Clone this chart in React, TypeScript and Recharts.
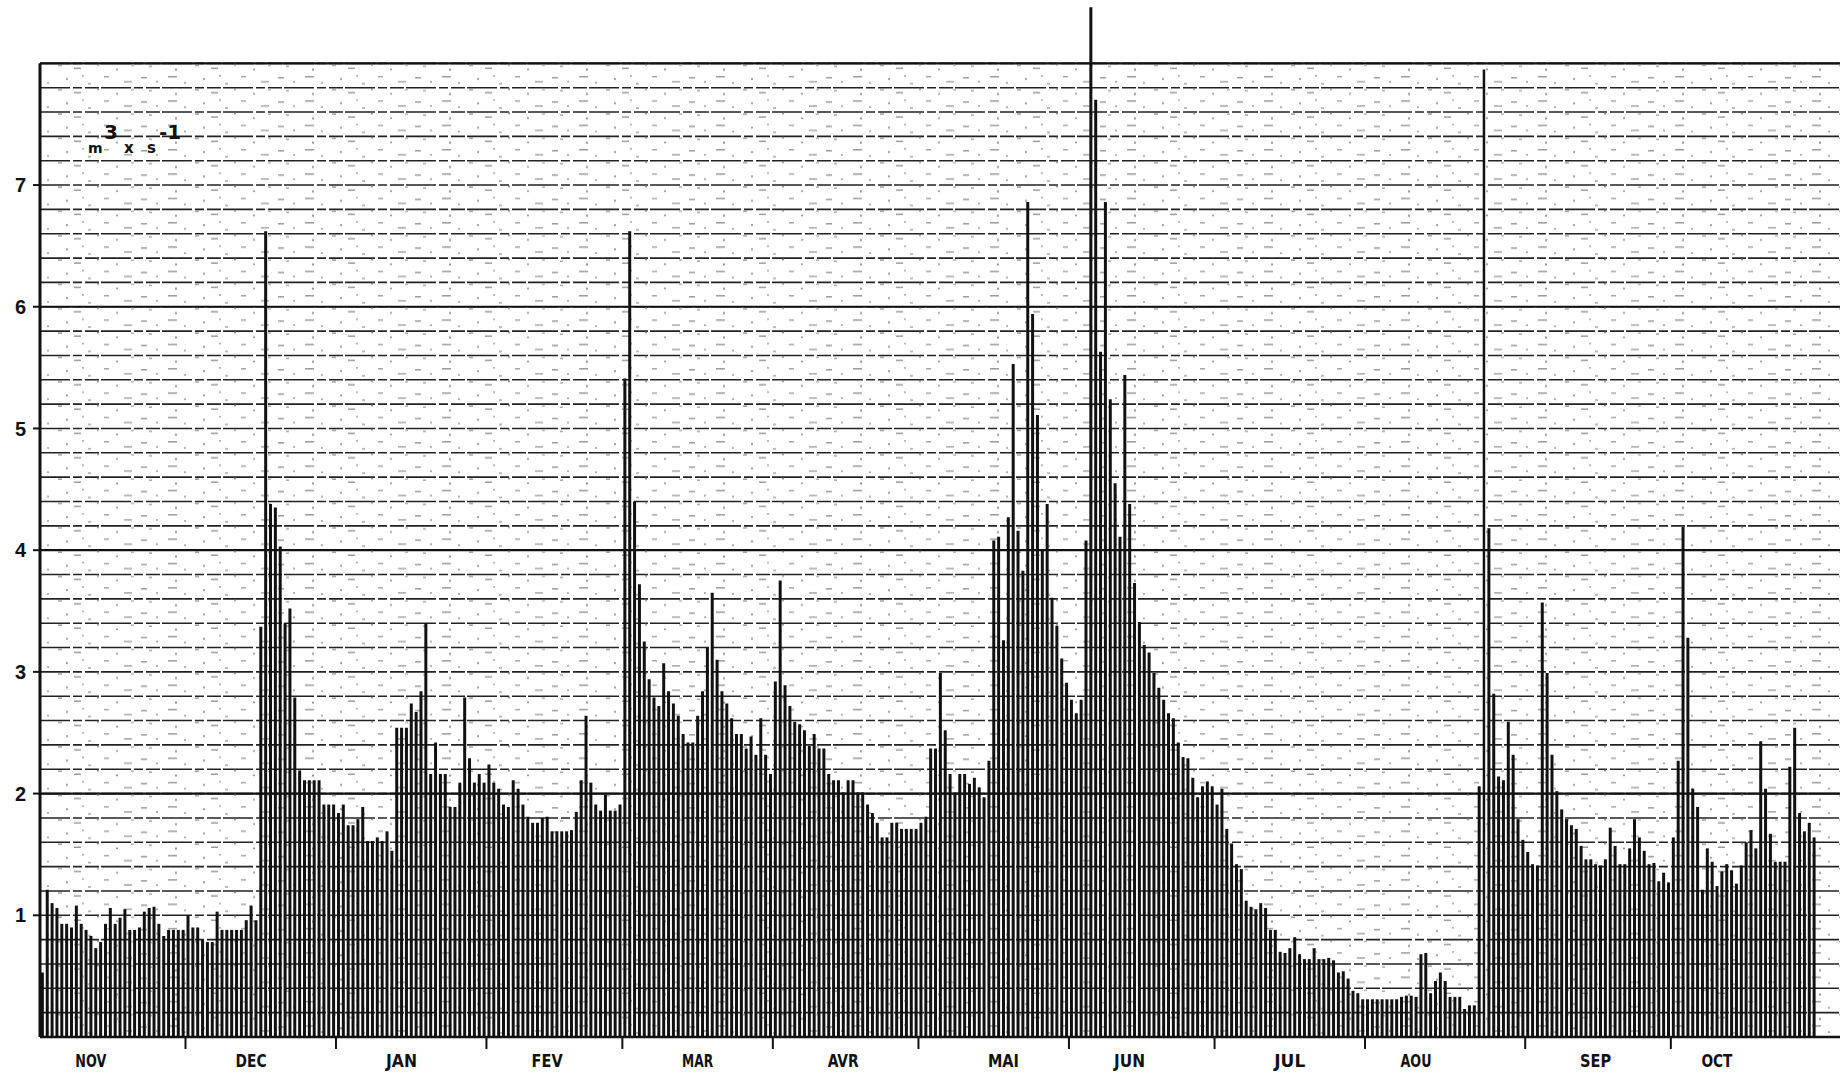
import React from 'react';
import { ComposedChart, Bar, XAxis, YAxis, CartesianGrid, ReferenceLine, ReferenceArea } from 'recharts';

// ---- data (daily discharge, m3/s, hydrological year NOV -> OCT) ----
const MONTHS = ['NOV', 'DEC', 'JAN', 'FEV', 'MAR', 'AVR', 'MAI', 'JUN', 'JUL', 'AOU', 'SEP', 'OCT'];

const NOV = [0.53, 1.21, 1.1, 1.06, 0.93, 0.93, 0.9, 1.08, 0.93, 0.88, 0.83, 0.73, 0.78, 0.93, 1.06, 0.93, 0.98, 1.05, 0.88, 0.88, 0.9, 1.03, 1.06, 1.07, 0.93, 0.83, 0.88, 0.88, 0.88, 0.88];
const DEC = [1.0, 0.9, 0.9, 0.8, 0.78, 0.78, 1.03, 0.88, 0.88, 0.88, 0.88, 0.88, 0.96, 1.08, 0.96, 3.37, 6.62, 4.38, 4.35, 4.03, 3.4, 3.52, 2.79, 2.19, 2.11, 2.11, 2.11, 2.11, 1.91, 1.91, 1.91];
const JAN = [1.84, 1.91, 1.74, 1.74, 1.79, 1.89, 1.61, 1.61, 1.64, 1.61, 1.69, 1.53, 2.54, 2.54, 2.54, 2.74, 2.67, 2.84, 3.4, 2.16, 2.42, 2.16, 2.16, 1.89, 1.89, 2.09, 2.79, 2.29, 2.09, 2.16, 2.09];
const FEV = [2.24, 2.09, 2.04, 1.91, 1.89, 2.11, 2.04, 1.91, 1.81, 1.76, 1.76, 1.8, 1.81, 1.69, 1.69, 1.69, 1.69, 1.7, 1.85, 2.11, 2.64, 2.09, 1.91, 1.86, 1.99, 1.86, 1.86, 1.91];
const MAR = [5.41, 6.62, 4.4, 3.72, 3.25, 2.94, 2.79, 2.72, 3.07, 2.84, 2.74, 2.64, 2.49, 2.42, 2.42, 2.64, 2.84, 3.2, 3.65, 3.1, 2.84, 2.74, 2.62, 2.49, 2.49, 2.37, 2.47, 2.32, 2.62, 2.32, 2.16];
const AVR = [2.92, 3.75, 2.89, 2.72, 2.59, 2.57, 2.52, 2.39, 2.49, 2.37, 2.37, 2.16, 2.11, 2.11, 2.01, 2.11, 2.11, 2.01, 2.01, 1.91, 1.84, 1.76, 1.64, 1.64, 1.76, 1.76, 1.71, 1.71, 1.71, 1.71];
const MAI = [1.76, 1.81, 2.37, 2.37, 2.99, 2.52, 2.16, 2.01, 2.16, 2.16, 2.08, 2.13, 2.05, 1.97, 2.27, 4.08, 4.11, 3.26, 4.27, 5.53, 4.16, 3.83, 6.86, 5.94, 5.11, 4.01, 4.38, 3.61, 3.38, 3.11, 2.91];
const JUN = [2.77, 2.66, 2.77, 4.08, 8.46, 7.7, 5.63, 6.86, 5.24, 4.55, 4.11, 5.44, 4.38, 3.73, 3.41, 3.22, 3.16, 2.99, 2.87, 2.77, 2.66, 2.62, 2.42, 2.3, 2.29, 2.13, 1.97, 2.06, 2.1, 2.06];
const JUL = [1.91, 2.04, 1.71, 1.59, 1.42, 1.38, 1.12, 1.07, 1.05, 1.1, 1.06, 0.88, 0.88, 0.7, 0.69, 0.73, 0.82, 0.68, 0.64, 0.64, 0.73, 0.64, 0.64, 0.65, 0.63, 0.53, 0.54, 0.48, 0.38, 0.36, 0.31];
const AOU = [0.31, 0.31, 0.31, 0.31, 0.31, 0.31, 0.31, 0.33, 0.34, 0.34, 0.33, 0.68, 0.69, 0.36, 0.46, 0.53, 0.46, 0.33, 0.33, 0.33, 0.23, 0.26, 0.26, 2.06, 4.18, 2.82, 2.14, 2.11, 2.59, 2.32, 1.79, 1.62];
const SEP = [1.52, 1.42, 1.41, 3.57, 2.99, 2.32, 2.02, 1.87, 1.79, 1.74, 1.71, 1.57, 1.46, 1.46, 1.42, 1.41, 1.46, 1.72, 1.57, 1.42, 1.42, 1.55, 1.79, 1.64, 1.53, 1.42, 1.43, 1.28, 1.35, 1.27];
const OCT = [1.64, 2.27, 4.19, 3.28, 2.04, 1.89, 1.21, 1.55, 1.44, 1.24, 1.36, 1.42, 1.37, 1.26, 1.41, 1.6, 1.7, 1.55, 2.43, 2.04, 1.67, 1.44, 1.44, 1.44, 2.22, 2.54, 1.84, 1.69, 1.76, 1.64];

const MONTH_VALUES = [NOV, DEC, JAN, FEV, MAR, AVR, MAI, JUN, JUL, AOU, SEP, OCT];
// day (0-based, within the month) under which each month name is printed
const MONTH_LABEL_DAY = [10, 13, 13, 12, 15, 14, 17, 12, 15, 10, 14, 9];
// the printed sheet is spliced inside AOU, after this many days
const SPLICE_MONTH = 9;
const SPLICE_AFTER_DAYS = 24;

const Y_LABELS = [1, 2, 3, 4, 5, 6, 7];
const GRID_STEP = 0.2;
const GRID_TOP = 8;
const SOLID_LINES = [2, 4, 6, 8];

// ---- layout ----
const W = 1843;
const H = 1074;
const MARGIN = { top: 2.5, right: 3, bottom: 7, left: 0 };
const XAXIS_H = 30;
const YAXIS_W = 40;
const BASE_Y = H - MARGIN.bottom - XAXIS_H;
const X_MIN = -0.474;
const X_MAX = 370.35;
const Y_MAX = 8.5;
const INK = '#111';

// ---- build table ----
const data: { x: number; q: number }[] = [];
const monthStart: number[] = [];
const boundaries: number[] = [];
let splicePos = 0;
{
  let pos = 0;
  MONTH_VALUES.forEach((vals, m) => {
    if (m > 0) boundaries.push(pos - 0.5);
    monthStart.push(pos);
    vals.forEach((v, d) => {
      if (m === SPLICE_MONTH && d === SPLICE_AFTER_DAYS) {
        splicePos = pos;
        pos += 1;
      }
      data.push({ x: pos, q: v });
      pos += 1;
    });
  });
}
const labelAt = new Map<number, string>();
MONTHS.forEach((name, m) => labelAt.set(monthStart[m] + MONTH_LABEL_DAY[m], name));
const xTicks = [...boundaries, ...Array.from(labelAt.keys())].sort((a, b) => a - b);
const gridValues: number[] = [];
for (let k = 1; k * GRID_STEP <= GRID_TOP + 1e-9; k++) gridValues.push(Math.round(k * GRID_STEP * 10) / 10);

const XTick = (props: any) => {
  const { x, payload } = props;
  const v = payload.value;
  const label = labelAt.get(v);
  if (label) {
    return (
      <text
        x={x}
        y={BASE_Y + 23}
        textAnchor="middle"
        dominantBaseline="central"
        fontFamily="'DejaVu Sans Condensed', 'DejaVu Sans', sans-serif"
        fontSize={18}
        fontWeight="bold"
        textLength={31}
        lengthAdjust="spacingAndGlyphs"
        fill={INK}
      >
        {label}
      </text>
    );
  }
  return <line x1={x} x2={x} y1={BASE_Y} y2={BASE_Y + 12} stroke={INK} strokeWidth={2} />;
};

export default function App() {
  return (
    <div style={{ position: 'absolute', left: 0, top: 0, width: W, height: H, background: '#fff', overflow: 'hidden' }}>
      <ComposedChart width={W} height={H} data={data} margin={MARGIN}>
        <defs>
          <pattern id="scanSpeckle" width="137" height="24.34" patternUnits="userSpaceOnUse">
            <rect x="4" y="4" width="6" height="1.4" fill="#666" />
            <rect x="19" y="8" width="2" height="1.6" fill="#777" />
            <rect x="31" y="3" width="9" height="1.4" fill="#666" />
            <rect x="47" y="9" width="2" height="1.6" fill="#777" />
            <rect x="58" y="16" width="4" height="1.4" fill="#666" />
            <rect x="66" y="5" width="2" height="2" fill="#777" />
            <rect x="74" y="19" width="7" height="1.4" fill="#666" />
            <rect x="88" y="10" width="3" height="1.4" fill="#777" />
            <rect x="97" y="15" width="2" height="2" fill="#666" />
            <rect x="104" y="3" width="5" height="1.4" fill="#777" />
            <rect x="116" y="20" width="2" height="1.6" fill="#666" />
            <rect x="124" y="8" width="8" height="1.4" fill="#777" />
            <rect x="12" y="17" width="3" height="1.4" fill="#777" />
            <rect x="38" y="20" width="2" height="2" fill="#666" />
            <rect x="82" y="2" width="2" height="1.6" fill="#888" />
            <rect x="131" y="16" width="3" height="1.4" fill="#888" />
          </pattern>
        </defs>
        <ReferenceArea x1={X_MIN} x2={X_MAX} y1={0} y2={GRID_TOP} fill="url(#scanSpeckle)" fillOpacity={0.7} stroke="none" />
        <CartesianGrid
          vertical={false}
          horizontalValues={gridValues}
          stroke="#222"
          strokeWidth={1.6}
          strokeDasharray="30 3 9 3 14 2"
        />
        <CartesianGrid vertical={false} horizontalValues={SOLID_LINES} stroke={INK} strokeWidth={2.2} />
        <XAxis
          type="number"
          dataKey="x"
          domain={[X_MIN, X_MAX]}
          allowDataOverflow
          ticks={xTicks}
          interval={0}
          tick={<XTick />}
          tickLine={false}
          axisLine={{ stroke: INK, strokeWidth: 2.5 }}
          height={XAXIS_H}
        />
        <YAxis
          type="number"
          domain={[0, Y_MAX]}
          allowDataOverflow
          ticks={Y_LABELS}
          interval={0}
          width={YAXIS_W}
          axisLine={false}
          tickLine={{ stroke: INK, strokeWidth: 2 }}
          tickSize={7}
          tickMargin={7}
          tick={{ fill: INK, fontSize: 20, fontWeight: 'bold', fontFamily: "'Liberation Sans', Arial, sans-serif" }}
        />
        <Bar dataKey="q" fill={INK} barSize={3} isAnimationActive={false} />
        <ReferenceLine segment={[{ x: X_MIN, y: 0 }, { x: X_MIN, y: GRID_TOP }]} stroke={INK} strokeWidth={3} />
        <ReferenceLine segment={[{ x: splicePos, y: 0 }, { x: splicePos, y: 7.95 }]} stroke={INK} strokeWidth={2.5} />
      </ComposedChart>
      <svg style={{ position: 'absolute', left: 0, top: 0, pointerEvents: 'none' }} width={W} height={H}>
        <g fontFamily="'DejaVu Sans', 'Liberation Sans', sans-serif" fontWeight="bold" fill={INK}>
          <text x={88} y={153} fontSize={14}>m</text>
          <text x={104} y={139} fontSize={20}>3</text>
          <text x={124} y={153} fontSize={15}>x</text>
          <text x={147} y={153} fontSize={15}>s</text>
          <text x={159} y={139} fontSize={20}>-1</text>
        </g>
      </svg>
    </div>
  );
}
